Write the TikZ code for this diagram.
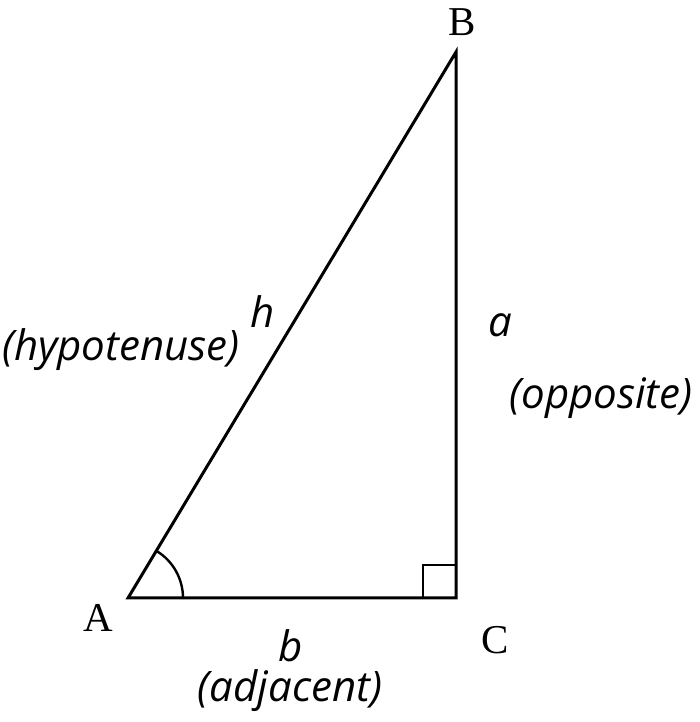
\documentclass[tikz,border=0pt]{standalone}
\usepackage{fontspec}
\setmainfont{Liberation Serif}
\newfontfamily\labelfont{Open Sans}
\usetikzlibrary{calc}
\tikzset{
  vertex/.style={font=\fontsize{41}{45}\selectfont},
  sidelabel/.style={inner sep=0pt,font=\labelfont\itshape\fontsize{42}{46}\selectfont},
}

\begin{document}
\begin{tikzpicture}[x=1pt,y=1pt,line width=3pt]
  \useasboundingbox (0,0) rectangle (700,722);

  \coordinate (A) at (128,124);
  \coordinate (C) at (456,124);
  \coordinate (B) at (456,670);

  \draw [line join=miter] (A) -- (C) -- (B) -- cycle;
  \draw [line width=2.4pt] ($(C)+(-33,0)$) |- ($(C)+(0,33)$);
  \draw [line width=2.4pt] ($(A)+(55,0)$) arc [start angle=0, end angle=59, radius=55];

  \node [vertex] (labelB) at (462,700) {B};
  \node [vertex] (labelA) at (98,104) {A};
  \node [vertex] (labelC) at (495,82) {C};

  \node [sidelabel] (h) at (263,410) {h};
  \node [sidelabel] (hyp) at (121,372) {(hypotenuse)};
  \node [sidelabel] (a) at (500,397) {a};
  \node [sidelabel] (opp) at (601,324) {(opposite)};
  \node [sidelabel] (b) at (291,76) {b};
  \node [sidelabel] (adj) at (290,31) {(adjacent)};
\end{tikzpicture}
\end{document}
